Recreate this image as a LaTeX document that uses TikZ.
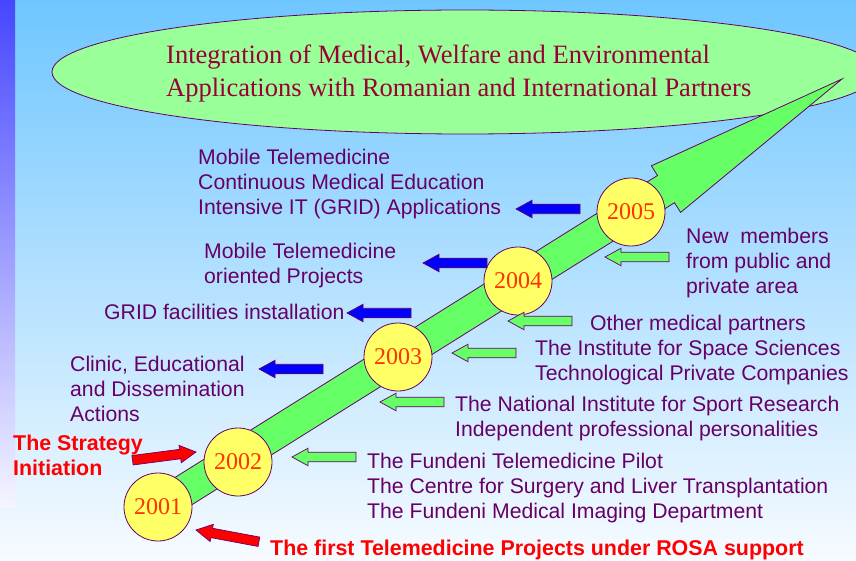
\documentclass[tikz,border=0pt]{standalone}
\usepackage{fontspec}
\usetikzlibrary{shapes.geometric}
\setmainfont{Liberation Serif}
\setsansfont{Liberation Sans}
\definecolor{bgtop}{HTML}{6FC6FF}
\definecolor{bgmid}{HTML}{B4DEFF}
\definecolor{bgbot}{HTML}{F7FBFF}
\definecolor{striptop}{HTML}{4646FF}
\definecolor{stripmid}{HTML}{D0D0FF}
\definecolor{stripbot}{HTML}{F5F5FF}
\definecolor{ellfill}{HTML}{99FF99}
\definecolor{edgepurple}{HTML}{660066}
\definecolor{txtpurple}{HTML}{660066}
\definecolor{titlered}{HTML}{990033}
\definecolor{yearred}{HTML}{FF3300}
\definecolor{arrowgreen}{HTML}{66FF66}
\definecolor{circyellow}{HTML}{FFFF66}
\begin{document}
\begin{tikzpicture}[x=1pt,y=-1pt,
  lbl/.style={anchor=base west,inner sep=0pt,align=left,text=txtpurple,
    font=\sffamily\fontsize{21.2}{25}\selectfont},
  redlbl/.style={anchor=base west,inner sep=0pt,align=left,text=red,
    font=\sffamily\bfseries\fontsize{21.4}{25}\selectfont},
  year/.style={circle,draw=edgepurple,line width=0.8pt,fill=circyellow,
    minimum size=68pt,inner sep=0pt,text=yearred,
    font=\fontsize{24}{26}\selectfont},
  bluearr/.style={fill=blue,draw=edgepurple,line width=0.7pt},
  greenarr/.style={fill=arrowgreen,draw=edgepurple,line width=0.7pt},
  redarr/.style={fill=red,draw=edgepurple,line width=0.7pt},
  pics/barrow/.style={code={
    \path[pic actions] (0,0) -- (16,8.75) -- (16,4.75) -- (64,4.75)
      -- (64,-4.75) -- (16,-4.75) -- (16,-8.75) -- cycle;}}
]
\useasboundingbox (0,0) rectangle (856,561);
% background
\shade[top color=bgtop,middle color=bgmid,bottom color=bgbot] (0,0) rectangle (856,561);
\shade[top color=striptop,middle color=stripmid,bottom color=stripbot] (0,0) rectangle (15,507);
% ellipse
\node[ellipse,draw=edgepurple,line width=0.8pt,fill=ellfill,minimum width=826pt,
  minimum height=124pt,inner sep=0pt] (goal) at (465,72) {};
\node[anchor=base west,inner sep=0pt,align=left,text=titlered,
  font=\fontsize{26.5}{33}\selectfont] (goaltext) at (166,97)
  {Integration of Medical, Welfare and Environmental\\Applications with Romanian and International Partners};
% big arrow
\draw[fill=arrowgreen,draw=edgepurple,line width=0.8pt]
  (149.5,493.4) -- (657.5,175.5) -- (651.4,165.8) -- (842,79)
  -- (680.6,212.4) -- (674.5,202.7) -- (166.5,520.6) -- cycle;
% years
\node[year] (y2001) at (158,507) {2001};
\node[year] (y2002) at (238,462) {2002};
\node[year] (y2003) at (398,357) {2003};
\node[year] (y2004) at (518,281) {2004};
\node[year] (y2005) at (631,212) {2005};
% left labels (anchor = baseline of last line)
\node[lbl] (l2005) at (198,214.5) {Mobile Telemedicine\\Continuous Medical Education\\Intensive IT (GRID) Applications};
\node[lbl] (l2004) at (204,283.5) {Mobile Telemedicine\\oriented Projects};
\node[lbl] (l2003) at (104,319.5) {GRID facilities installation};
\node[lbl] (l2002) at (70,421.5) {Clinic, Educational\\and Dissemination\\Actions};
% right labels
\node[lbl] (r2005) at (686,293.5) {New~ members\\from public and\\private area};
\node[lbl] (r2004) at (590,330.5) {Other medical partners};
\node[lbl] (r2003) at (535,380.5) {The Institute for Space Sciences\\Technological Private Companies};
\node[lbl] (r2002b) at (455,436.5) {The National Institute for Sport Research\\Independent professional personalities};
\node[lbl] (r2002) at (367,518.5) {The Fundeni Telemedicine Pilot\\The Centre for Surgery and Liver Transplantation\\The Fundeni Medical Imaging Department};
% red labels
\node[redlbl] (strat) at (13,475) {The Strategy\\Initiation};
\node[redlbl] (rosa) at (270,555) {The first Telemedicine Projects under ROSA support};
% blue arrows
\pic[bluearr] (ba1) at (516,209) {barrow};
\pic[bluearr] (ba2) at (423,263) {barrow};
\pic[bluearr] (ba3) at (347,313) {barrow};
\pic[bluearr] (ba4) at (259,369) {barrow};
% green arrows
\pic[greenarr] (ga1) at (605,257) {barrow};
\pic[greenarr] (ga2) at (508,321) {barrow};
\pic[greenarr] (ga3) at (452,353) {barrow};
\pic[greenarr] (ga4) at (380,402) {barrow};
\pic[greenarr] (ga5) at (292,457) {barrow};
% red arrows
\pic[redarr,rotate=187.4] (ra1) at (196,452) {barrow};
\pic[redarr,rotate=-10.6] (ra2) at (196,530) {barrow};
\end{tikzpicture}
\end{document}
